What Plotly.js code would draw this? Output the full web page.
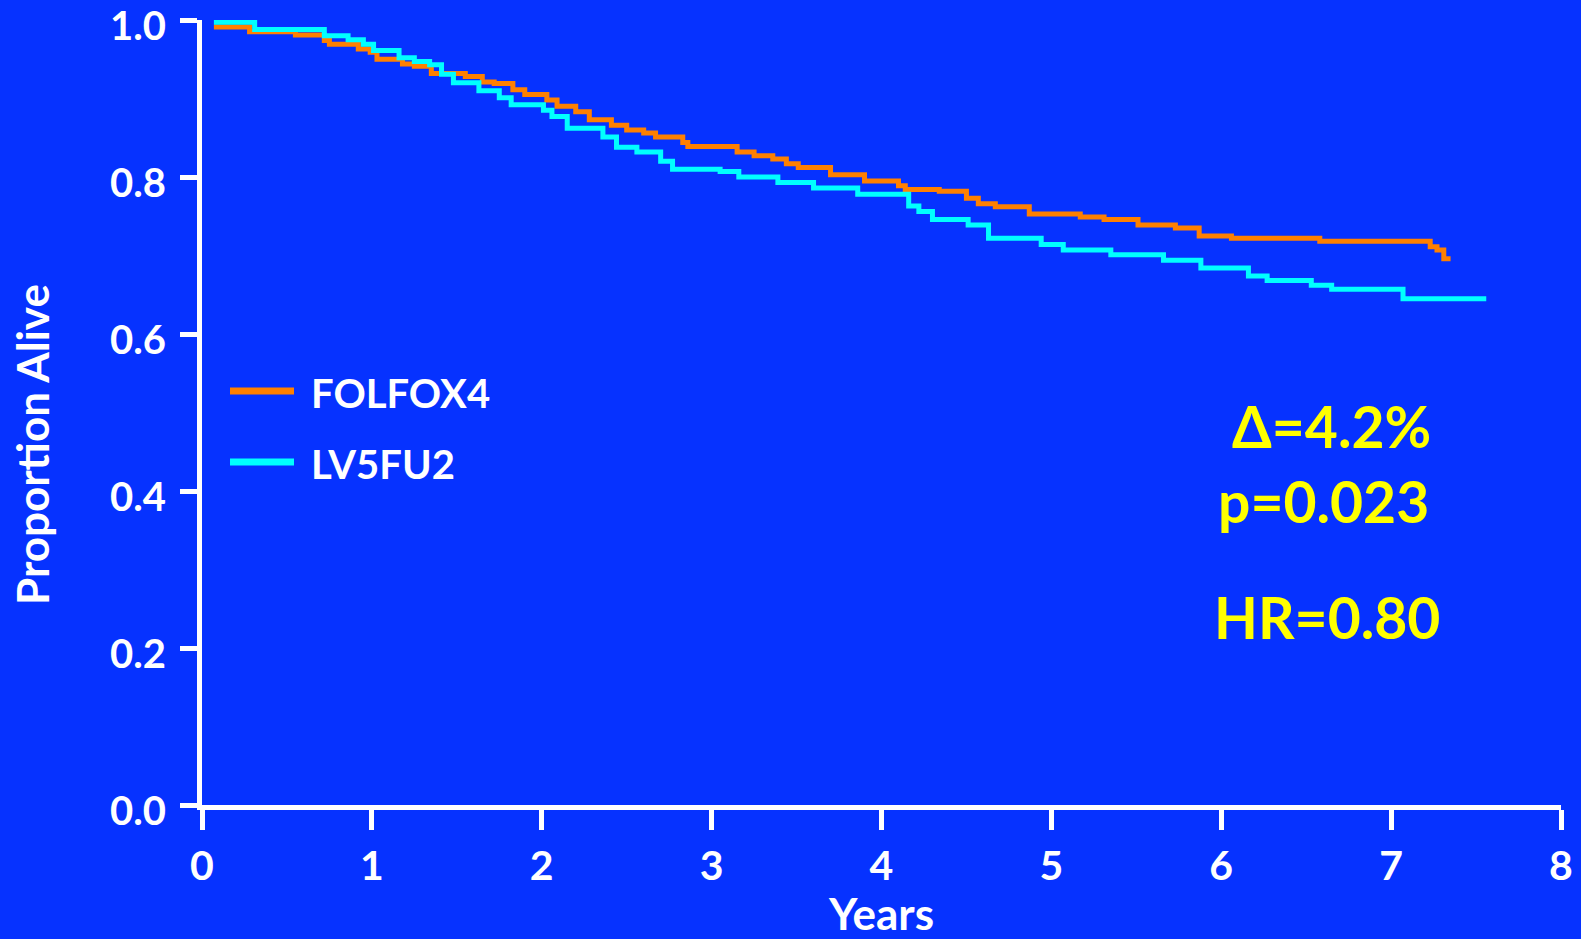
<!DOCTYPE html>
<html>
<head>
<meta charset="utf-8">
<script src="https://cdn.plot.ly/plotly-3.0.1.min.js"></script>
<style>
  html, body { margin: 0; padding: 0; background: #0632FF; }
  #chart { width: 1581px; height: 939px; }
</style>
</head>
<body>
<div id="chart"></div>
<script>
// ---- Data ----
const seriesNames = ["FOLFOX4", "LV5FU2"];

const folfoxYears = [0.07, 0.28, 0.55, 0.72, 0.75, 0.92, 0.99, 1.03, 1.18, 1.25, 1.35, 1.55, 1.65, 1.72, 1.83, 1.90,
  2.03, 2.09, 2.20, 2.28, 2.41, 2.50, 2.60, 2.67, 2.83, 2.86, 3.15, 3.25, 3.36, 3.44, 3.51, 3.70, 3.90,
  4.10, 4.14, 4.34, 4.50, 4.57, 4.67, 4.87, 5.17, 5.31, 5.51, 5.73, 5.87, 6.06, 6.58, 7.23, 7.27, 7.31, 7.35];
const folfoxSurv = [0.991, 0.985, 0.981, 0.974, 0.969, 0.963, 0.959, 0.950, 0.944, 0.941, 0.932, 0.928, 0.921, 0.919, 0.911, 0.905,
  0.898, 0.890, 0.883, 0.873, 0.866, 0.860, 0.856, 0.851, 0.844, 0.839, 0.832, 0.827, 0.823, 0.817, 0.812, 0.803, 0.795,
  0.789, 0.784, 0.782, 0.773, 0.766, 0.762, 0.753, 0.749, 0.746, 0.739, 0.735, 0.725, 0.722, 0.718, 0.711, 0.707, 0.696, 0.696];

const lv5fu2Years = [0.07, 0.31, 0.72, 0.86, 0.95, 1.01, 1.16, 1.25, 1.34, 1.41, 1.48, 1.63, 1.75, 1.82, 2.01, 2.06,
  2.15, 2.36, 2.44, 2.56, 2.70, 2.77, 3.05, 3.16, 3.39, 3.60, 3.86, 4.16, 4.22, 4.30, 4.51, 4.63, 4.94,
  5.07, 5.35, 5.66, 5.88, 6.16, 6.27, 6.53, 6.65, 7.07, 7.56];
const lv5fu2Surv = [0.997, 0.988, 0.980, 0.975, 0.969, 0.961, 0.952, 0.947, 0.943, 0.931, 0.920, 0.910, 0.901, 0.892, 0.885, 0.877,
  0.862, 0.851, 0.838, 0.832, 0.820, 0.810, 0.807, 0.800, 0.793, 0.786, 0.778, 0.763, 0.756, 0.746, 0.739, 0.722, 0.714,
  0.707, 0.701, 0.694, 0.684, 0.674, 0.668, 0.662, 0.657, 0.645, 0.645];

const xTickVals = [0, 1, 2, 3, 4, 5, 6, 7, 8];
const yTickVals = [0, 0.2, 0.4, 0.6, 0.8, 1.0];
const statLines = ["Δ=4.2%", "p=0.023", "HR=0.80"];
const xTitle = "Years";
const yTitle = "Proportion Alive";

// ---- Styles ----
const BG = "#0632FF";
const ORANGE = "#FF8000";
const CYAN = "#00FFFF";
const YELLOW = "#FFFF00";
const FONT = "Lato, 'Open Sans', sans-serif";

const traces = [
  { x: folfoxYears, y: folfoxSurv, name: seriesNames[0], type: "scatter", mode: "lines",
    line: { color: ORANGE, width: 5, shape: "hv" } },
  { x: lv5fu2Years, y: lv5fu2Surv, name: seriesNames[1], type: "scatter", mode: "lines",
    line: { color: CYAN, width: 5, shape: "hv" } }
];

const H = 939, W = 1581;
const PL = 202, PR = 1561, PT = 20, PB = 805;
const px = v => (v - PL) / (PR - PL);   // pixel x -> paper
const py = v => (PB - v) / (PB - PT);   // pixel y -> paper

// manual legend (line samples + labels)
const legendY = [391, 462];
const legendColors = [ORANGE, CYAN];
const shapes = [];
const annotations = [];
seriesNames.forEach((nm, i) => {
  shapes.push({ type: "line", xref: "paper", yref: "paper",
    x0: px(230), x1: px(294), y0: py(legendY[i]), y1: py(legendY[i]),
    line: { color: legendColors[i], width: 7 } });
  annotations.push({ text: nm, xref: "paper", yref: "paper", showarrow: false,
    x: px(309), y: py(legendY[i] + 2), xanchor: "left", yanchor: "middle",
    font: { family: FONT, size: 40, color: "white", weight: 700 } });
});

const statPos = [[1331, 426], [1323, 501], [1327, 617]];
statLines.forEach((s, i) => {
  annotations.push({ text: s, xref: "paper", yref: "paper", showarrow: false,
    x: px(statPos[i][0]), y: py(statPos[i][1]),
    xanchor: "center", yanchor: "middle",
    font: { family: FONT, size: 57, color: YELLOW, weight: 700 } });
});

// y axis title (placed as rotated text to match reference position)
annotations.push({ text: yTitle, xref: "paper", yref: "paper", showarrow: false,
  x: px(32), y: py(445), xanchor: "center", yanchor: "middle", textangle: -90,
  font: { family: FONT, size: 44, color: "white", weight: 700 } });

const layout = {
  width: W, height: H,
  paper_bgcolor: BG, plot_bgcolor: BG,
  margin: { l: PL, r: W - PR, t: PT, b: H - PB },
  showlegend: false,
  font: { family: FONT, color: "white", weight: 700 },
  xaxis: {
    range: [0, 8], tickvals: xTickVals, ticktext: xTickVals.map(String),
    showgrid: false, zeroline: false,
    showline: true, linecolor: "white", linewidth: 5,
    ticks: "outside", ticklen: 20, tickwidth: 5, tickcolor: "white",
    ticklabelstandoff: 1, ticklabeloverflow: "allow",
    tickfont: { family: FONT, size: 41, color: "white", weight: 700 },
    title: { text: xTitle, font: { family: FONT, size: 44, color: "white", weight: 700 }, standoff: 8 }
  },
  yaxis: {
    range: [0, 1], tickvals: yTickVals, ticktext: yTickVals.map(v => v.toFixed(1)),
    showgrid: false, zeroline: false,
    showline: true, linecolor: "white", linewidth: 5,
    ticks: "outside", ticklen: 17, tickwidth: 5, tickcolor: "white",
    ticklabelstandoff: 6, ticklabelshift: 6, ticklabeloverflow: "allow",
    tickfont: { family: FONT, size: 40, color: "white", weight: 700 }
  },
  shapes: shapes,
  annotations: annotations
};

Plotly.newPlot("chart", traces, layout, { displayModeBar: false, staticPlot: true });
</script>
</body>
</html>
